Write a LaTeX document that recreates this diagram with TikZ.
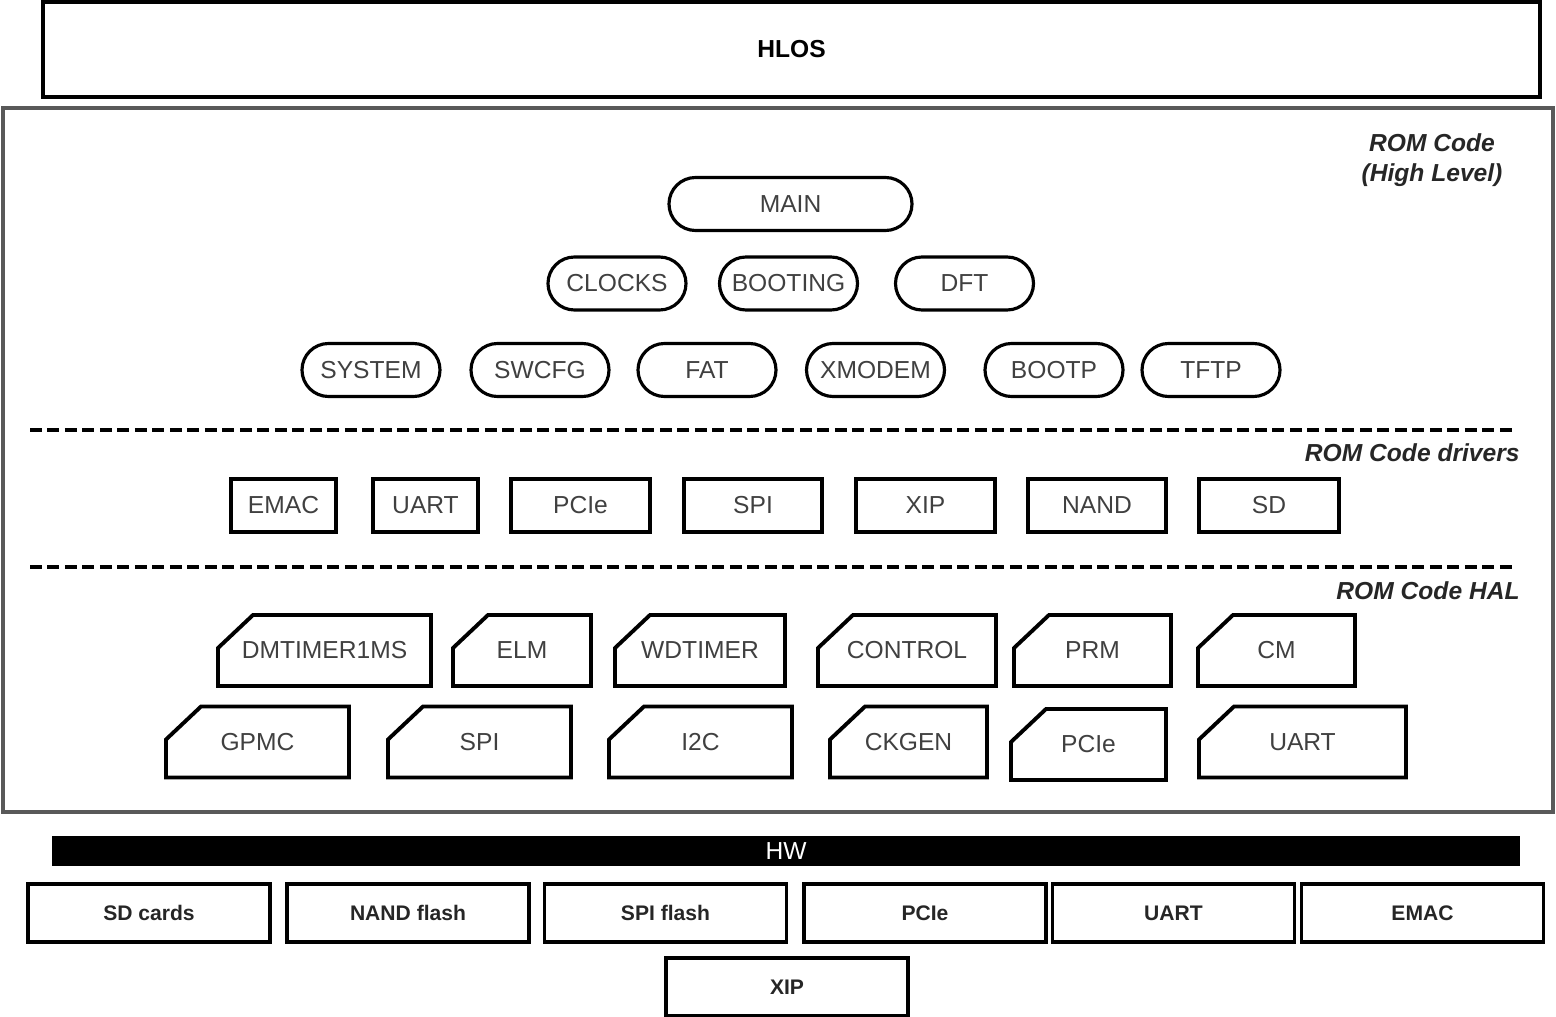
\documentclass[tikz,border=0pt]{standalone}
\usepackage{fontspec}
\setmainfont{Liberation Sans}
\usetikzlibrary{shapes.misc}
\usetikzlibrary{positioning}

\newcommand{\txtsize}{\fontsize{7}{8.4}\selectfont}
\newcommand{\smallsize}{\fontsize{6}{7.2}\selectfont}

\begin{document}
\begin{tikzpicture}[thick,
    level box/.style={draw,line width=1.2pt,minimum width=14.97cm,minimum height=0.95cm,font=\txtsize\bfseries},
    layer label/.style={font=\txtsize\bfseries\itshape,text=black!85,align=center,inner sep=0pt},
    pill node/.style={rounded rectangle,draw,line width=0.9pt,minimum width=1.38cm,minimum height=0.53cm,inner sep=0pt,font=\txtsize,text=black!75},
    drv node/.style={rectangle,draw,line width=1.1pt,minimum height=0.53cm,inner sep=0pt,font=\txtsize,text=black!75},
    hal node/.style={rectangle,minimum height=0.71cm,inner sep=0pt,outer sep=0pt,font=\txtsize,text=black!75,
      append after command={\pgfextra{\draw[line width=1.1pt,line join=miter]
        ([yshift=-0.33cm]\tikzlastnode.north west) -- ([xshift=0.35cm]\tikzlastnode.north west)
        -- (\tikzlastnode.north east) -- (\tikzlastnode.south east)
        -- (\tikzlastnode.south west) -- cycle;}}},
    hw node/.style={rectangle,draw,line width=1.1pt,minimum width=2.42cm,minimum height=0.58cm,inner sep=0pt,font=\smallsize\bfseries,text=black!85},
    sep line/.style={line width=1.1pt,dash pattern=on 0.12cm off 0.055cm}]
    \useasboundingbox (0,0) rectangle (15.56,-10.17);

    % HLOS
    \node[level box] (hlos) at (7.915,-0.495) {HLOS};

    % ROM code frame
    \node[draw=black!65,line width=1.1pt,minimum width=15.50cm,minimum height=7.04cm,inner sep=0pt] (rom) at (7.78,-4.60) {};
    \node[layer label] (highlbl) at (14.32,-1.60) {ROM Code\\(High Level)};

    \begin{scope}
      \node[pill node,minimum width=2.43cm] (main) at (7.905,-2.04) {MAIN};
      \node[pill node] (clocks) at (6.17,-2.835) {CLOCKS};
      \node[pill node] (booting) at (7.885,-2.835) {BOOTING};
      \node[pill node] (dft) at (9.645,-2.835) {DFT};
      \node[pill node] (system) at (3.71,-3.70) {SYSTEM};
      \node[pill node] (swcfg) at (5.40,-3.70) {SWCFG};
      \node[pill node] (fat) at (7.07,-3.70) {FAT};
      \node[pill node] (xmodem) at (8.755,-3.70) {XMODEM};
      \node[pill node] (bootp) at (10.54,-3.70) {BOOTP};
      \node[pill node] (tftp) at (12.11,-3.70) {TFTP};
    \end{scope}

    \draw[sep line] (0.30,-4.30) -- (15.12,-4.30);
    \node[layer label,anchor=east] (drvlbl) at (15.21,-4.53) {ROM Code drivers};

    \begin{scope}
      \node[drv node,minimum width=1.05cm] (emac) at (2.835,-5.055) {EMAC};
      \node[drv node,minimum width=1.05cm] (uart) at (4.255,-5.055) {UART};
      \node[drv node,minimum width=1.39cm] (pcie) at (5.805,-5.055) {PCIe};
      \node[drv node,minimum width=1.38cm] (spi) at (7.53,-5.055) {SPI};
      \node[drv node,minimum width=1.39cm] (xip) at (9.255,-5.055) {XIP};
      \node[drv node,minimum width=1.38cm] (nand) at (10.97,-5.055) {NAND};
      \node[drv node,minimum width=1.40cm] (sd) at (12.69,-5.055) {SD};
    \end{scope}

    \draw[sep line] (0.30,-5.67) -- (15.12,-5.67);
    \node[layer label,anchor=east] (hallbl) at (15.21,-5.91) {ROM Code HAL};

    \begin{scope}
      \node[hal node,minimum width=2.13cm] (dmtimer) at (3.245,-6.505) {DMTIMER1MS};
      \node[hal node,minimum width=1.38cm] (elm) at (5.22,-6.505) {ELM};
      \node[hal node,minimum width=1.70cm] (wdtimer) at (7.00,-6.505) {WDTIMER};
      \node[hal node,minimum width=1.78cm] (control) at (9.07,-6.505) {CONTROL};
      \node[hal node,minimum width=1.57cm] (prm) at (10.925,-6.505) {PRM};
      \node[hal node,minimum width=1.57cm] (cm) at (12.765,-6.505) {CM};
      \node[hal node,minimum width=1.83cm] (gpmc) at (2.575,-7.42) {GPMC};
      \node[hal node,minimum width=1.83cm] (halspi) at (4.795,-7.42) {SPI};
      \node[hal node,minimum width=1.83cm] (i2c) at (7.005,-7.42) {I2C};
      \node[hal node,minimum width=1.57cm] (ckgen) at (9.085,-7.42) {CKGEN};
      \node[hal node,minimum width=1.55cm] (halpcie) at (10.885,-7.445) {PCIe};
      \node[hal node,minimum width=2.07cm] (haluart) at (13.025,-7.42) {UART};
    \end{scope}

    % HW
    \node[fill=black,minimum width=14.68cm,minimum height=0.30cm,inner sep=0pt,text=white,font=\txtsize] (hw) at (7.86,-8.51) {HW};

    \begin{scope}
      \node[hw node] (sdcards) at (1.49,-9.13) {SD cards};
      \node[hw node] (nandflash) at (4.08,-9.13) {NAND flash};
      \node[hw node] (spiflash) at (6.655,-9.13) {SPI flash};
      \node[hw node] (hwpcie) at (9.25,-9.13) {PCIe};
      \node[hw node] (hwuart) at (11.735,-9.13) {UART};
      \node[hw node] (hwemac) at (14.225,-9.13) {EMAC};
      \node[hw node] (hwxip) at (7.87,-9.87) {XIP};
    \end{scope}
\end{tikzpicture}
\end{document}
